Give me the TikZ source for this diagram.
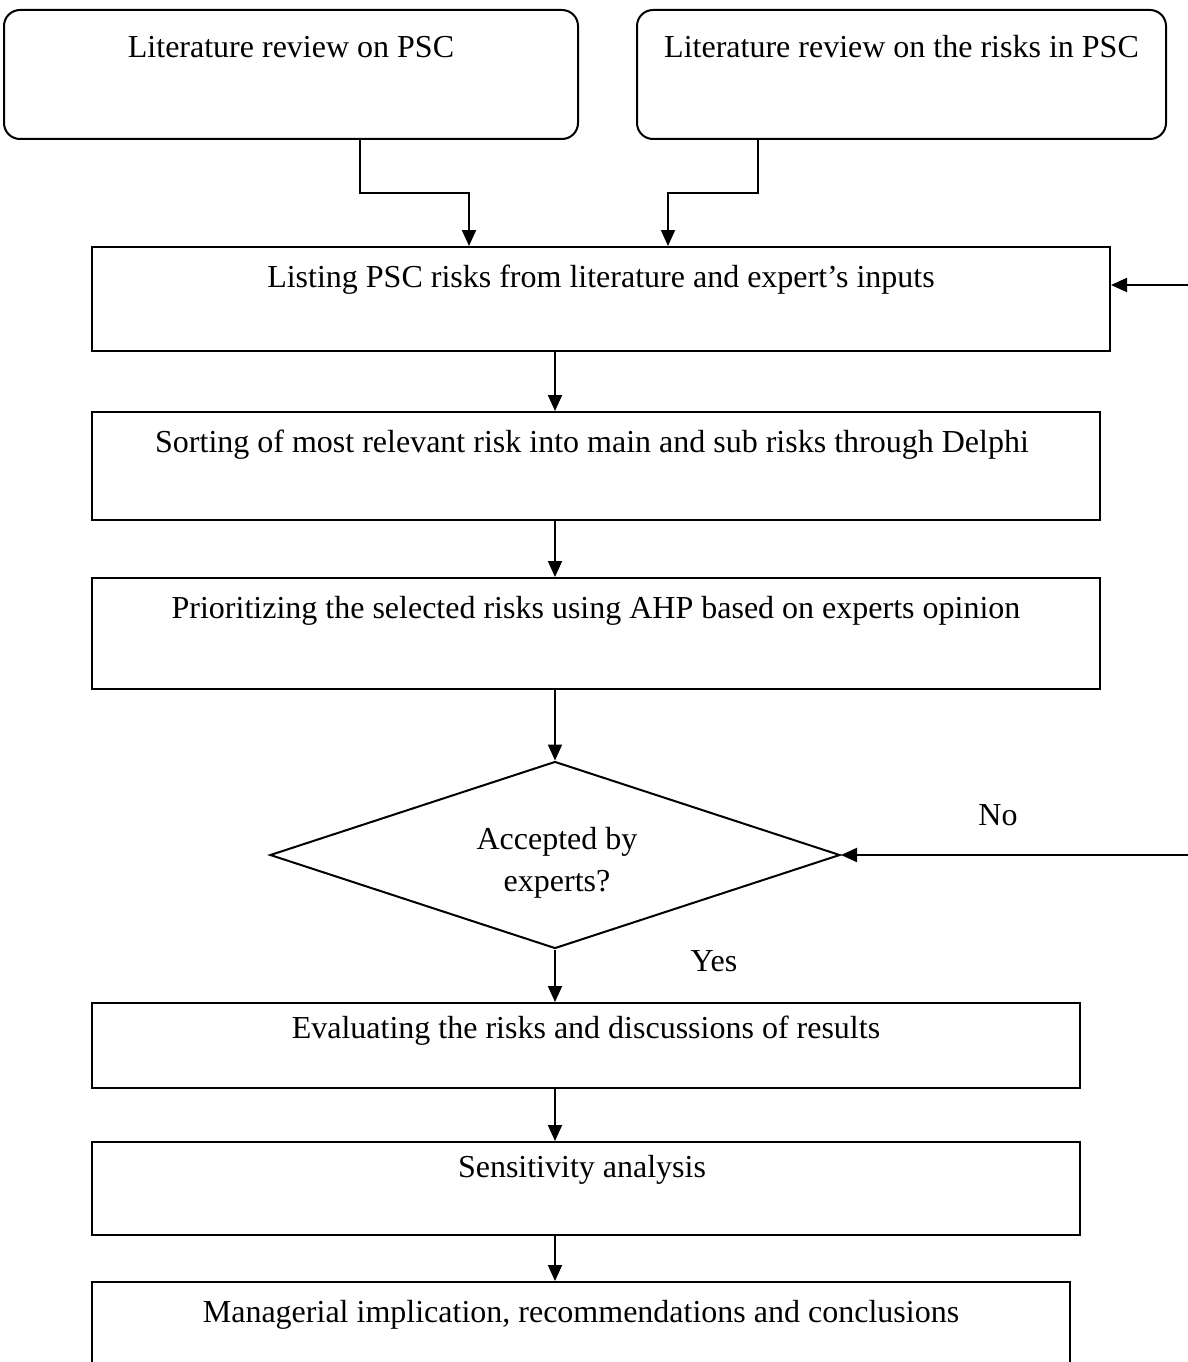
\documentclass[tikz,border=0pt]{standalone}
\usepackage{fontspec}
\setmainfont{Liberation Serif}
\usetikzlibrary{arrows.meta,shapes.geometric,calc,fit}
\begin{document}
\begin{tikzpicture}[x=1pt,y=-1pt,
  every node/.style={font=\fontsize{32}{40}\selectfont},
  box/.style={draw,line width=2pt,inner sep=0pt,rectangle},
  rbox/.style={box,rounded corners=16pt},
  lbl/.style={anchor=base,inner sep=0pt},
  arr/.style={line width=2pt,-{Triangle[length=16pt,width=14pt]}},
  dec/.style={draw,line width=2pt,diamond,aspect=3,inner sep=0pt,
    minimum width=570pt,minimum height=187pt}]
\useasboundingbox (0,0) rectangle (1188,1362);
\node[rbox,fit={(4,10)(578,139)}] (r1) {};
\node[rbox,fit={(637,10)(1166,139)}] (r2) {};
\node[box,fit={(92,247)(1110,351)}] (b3) {};
\node[box,fit={(92,412)(1100,520)}] (b4) {};
\node[box,fit={(92,578)(1100,689)}] (b5) {};
\node[dec] (dia) at (555,855) {};
\node[box,fit={(92,1003)(1080,1088)}] (b6) {};
\node[box,fit={(92,1142)(1080,1235)}] (b7) {};
\node[box,fit={(92,1282)(1070,1430)}] (b8) {};

\node[lbl] (t1) at (291,58) {Literature review on PSC};
\node[lbl] (t2) at (901.5,58) {Literature review on the risks in PSC};
\node[lbl] (t3) at (601,287) {Listing PSC risks from literature and expert’s inputs};
\node[lbl] (t4) at (592,452) {Sorting of most relevant risk into main and sub risks through Delphi};
\node[lbl] (t5) at (596,618) {Prioritizing the selected risks using AHP based on experts opinion};
\node[lbl] (t6) at (586,1038) {Evaluating the risks and discussions of results};
\node[lbl] (t7) at (582,1177) {Sensitivity analysis};
\node[lbl] (t8) at (581,1322) {Managerial implication, recommendations and conclusions};
\node[lbl] (td1) at (557,849) {Accepted by};
\node[lbl] (td2) at (557,891) {experts?};
\node[lbl] (no) at (998,825) {No};
\node[lbl] (yes) at (714,971) {Yes};

\draw[arr] ($(r1.south west)+(357,0)$) -- ++(0,53) -| ($(b3.north west)+(378,0)$);
\draw[arr] ($(r2.south west)+(122,0)$) -- ++(0,53) -| ($(b3.north west)+(577,0)$);
\draw[arr] (b3.south -| dia.north) -- (b4.north -| dia.north);
\draw[arr] (b4.south -| dia.north) -- (b5.north -| dia.north);
\draw[arr] (b5.south -| dia.north) -- (dia.north);
\draw[arr] (dia.south) -- (b6.north -| dia.south);
\draw[arr] (b6.south -| dia.south) -- (b7.north -| dia.south);
\draw[arr] (b7.south -| dia.south) -- (b8.north -| dia.south);
\coordinate (e1) at (1188,285);
\coordinate (e2) at (1188,855);
\draw[arr] (e1) -- (e1 -| b3.east);
\draw[arr] (e2) -- (dia.east);
\end{tikzpicture}
\end{document}
